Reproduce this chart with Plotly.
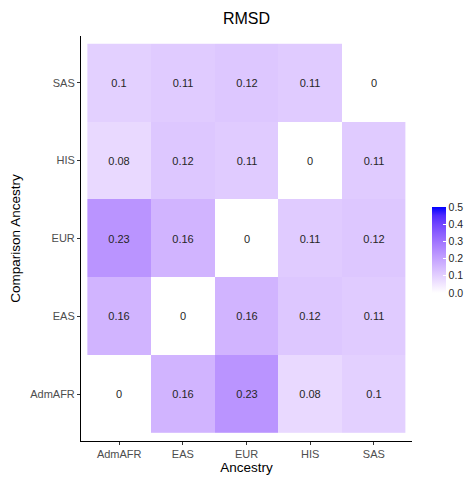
import plotly.graph_objects as go

ancestry = ["AdmAFR", "EAS", "EUR", "HIS", "SAS"]
comparison = ["AdmAFR", "EAS", "EUR", "HIS", "SAS"]
# rows = comparison ancestry (bottom to top), columns = ancestry
rmsd = [
    [0, 0.16, 0.23, 0.08, 0.1],    # AdmAFR
    [0.16, 0, 0.16, 0.12, 0.11],   # EAS
    [0.23, 0.16, 0, 0.11, 0.12],   # EUR
    [0.08, 0.12, 0.11, 0, 0.11],   # HIS
    [0.1, 0.11, 0.12, 0.11, 0],    # SAS
]
cbar_ticks = [0.0, 0.1, 0.2, 0.3, 0.4, 0.5]


def lab_to_rgb(L, a, b):
    fy = (L + 16) / 116
    fx = fy + a / 500
    fz = fy - b / 200
    def finv(t):
        return t ** 3 if t ** 3 > 0.008856 else (t - 16 / 116) / 7.787
    X, Y, Z = 0.95047 * finv(fx), 1.0 * finv(fy), 1.08883 * finv(fz)
    r = 3.2406 * X - 1.5372 * Y - 0.4986 * Z
    g = -0.9689 * X + 1.8758 * Y + 0.0415 * Z
    bb = 0.0557 * X - 0.2040 * Y + 1.0570 * Z
    def gam(c):
        c = max(0.0, min(1.0, c))
        return 12.92 * c if c <= 0.0031308 else 1.055 * c ** (1 / 2.4) - 0.055
    return "rgb(%d,%d,%d)" % tuple(round(gam(c) * 255) for c in (r, g, bb))


white_lab = (100.0, 0.0, 0.0)
blue_lab = (32.30, 79.19, -107.86)
colorscale = []
for i in range(11):
    t = i / 10
    L = white_lab[0] + t * (blue_lab[0] - white_lab[0])
    A = white_lab[1] + t * (blue_lab[1] - white_lab[1])
    B = white_lab[2] + t * (blue_lab[2] - white_lab[2])
    colorscale.append([t, lab_to_rgb(L, A, B)])

text = [[("%g" % v) for v in row] for row in rmsd]

FONT = "Liberation Sans, Arial, sans-serif"

# The page body has an 8px margin, so figure coordinates are offset by 8px.
W, H = 466, 472
L_M, R_EDGE, T_M, B_EDGE = 73, 404, 28, 433

fig = go.Figure(go.Heatmap(
    x=ancestry, y=comparison, z=rmsd,
    zmin=0, zmax=0.5, colorscale=colorscale,
    text=text, texttemplate="%{text}",
    textfont=dict(family=FONT, size=11, color="#262626"),
    hoverinfo="skip",
    colorbar=dict(
        thickness=14, lenmode="pixels", len=86,
        x=1.06, xanchor="left", y=0.472, yanchor="middle",
        xpad=0, ypad=0, outlinewidth=0,
        tickvals=cbar_ticks, ticktext=["%.1f" % v for v in cbar_ticks],
        ticks="inside", ticklen=3, tickcolor="white",
        tickfont=dict(family=FONT, size=10.5, color="#262626"),
    ),
))

axis_common = dict(
    showgrid=False, zeroline=False, showline=True, linecolor="black", linewidth=1,
    ticks="outside", ticklen=3, tickcolor="#333333", tickwidth=1, automargin=False,
    tickfont=dict(family=FONT, size=11, color="#4D4D4D"),
    title_font=dict(family=FONT, size=13.5, color="black"),
)
fig.update_xaxes(range=[-0.6, 4.6], title_text="Ancestry", title_standoff=2, **axis_common)
fig.update_yaxes(range=[-0.6, 4.6], title_text="Comparison Ancestry", title_standoff=6, **axis_common)

fig.update_layout(
    width=W, height=H,
    margin=dict(l=L_M, r=W - R_EDGE, t=T_M, b=H - B_EDGE, autoexpand=False),
    paper_bgcolor="white", plot_bgcolor="white",
    title=dict(text="RMSD", x=(L_M + R_EDGE) / 2 / W, xanchor="center", y=1 - 10 / H, yanchor="middle",
               font=dict(family=FONT, size=16, color="black")),
)

fig.write_html("out.html")
